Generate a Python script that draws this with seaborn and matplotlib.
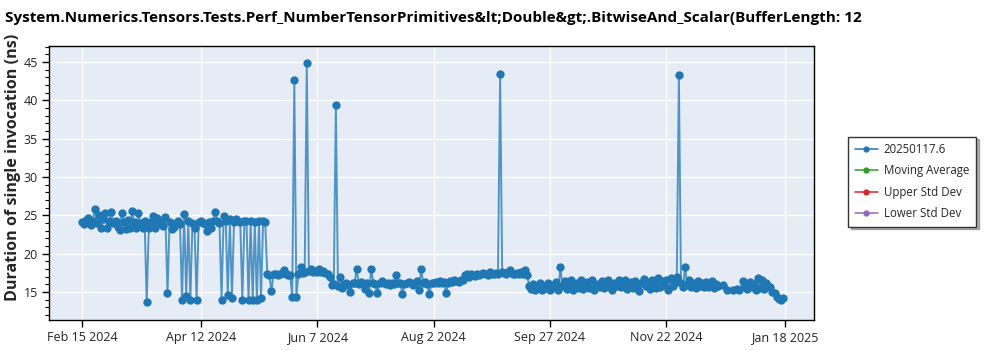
import numpy as np
import pandas as pd
import matplotlib
matplotlib.use("Agg")
import matplotlib.pyplot as plt
import matplotlib.dates as mdates
from matplotlib.lines import Line2D
from matplotlib.ticker import MultipleLocator
import seaborn as sns

# ---- data -------------------------------------------------------------
title = ("System.Numerics.Tensors.Tests.Perf_NumberTensorPrimitives&lt;Double&gt;"
         ".BitwiseAnd_Scalar(BufferLength: 12")
y_label = "Duration of single invocation (ns)"
series_name = "20250117.6"
legend_labels = [series_name, "Moving Average", "Upper Std Dev", "Lower Std Dev"]

first_run = "2024-02-15"
# one value per day starting at first_run; None = no run that day
run_values = [
    24.1, 23.8, 24.4, 24.6, 23.7, 24.3, 25.8, 24.0, 25.05, 23.4,
    24.5, 25.35, 23.3, 24.2, 25.45, 24.0, 24.3, 23.5, 23.1, 25.25,
    24.1, 23.2, 24.4, 23.3, 25.5, 24.1, 23.4, 25.25, 24.0, 23.3,
    24.2, 13.7, 23.3, 24.1, 24.95, 23.3, 24.65, 24.0, 24.2, 23.6,
    24.8, 14.8, 24.1, 23.2, 23.5, 24.0, 24.2, 23.9, 13.9, 25.1,
    14.5, 24.2, 13.9, 24.0, 23.4, 13.9, 24.1, 24.2, 24.0, 23.9,
    22.9, 24.1, 23.3, 24.2, 25.45, 24.2, 24.0, 13.9, 24.95, 24.2,
    14.6, 24.5, 14.2, 24.1, 24.5, 24.2, 24.1, 14.0, 24.2, 24.2,
    13.9, 24.2, 13.9, 24.1, 13.9, 24.2, 14.2, 24.2, 24.1, 17.3,
    17.2, 15.1, 17.3, 17.4, 17.2, 17.3, 17.45, 17.9, 17.3, 17.2,
    17.2, 14.4, 42.6, 14.4, 17.3, 18.2, 17.5, 17.6, 44.8, 17.7,
    18.0, 17.6, 17.7, 17.6, 18.0, 17.6, 17.7, 17.5, 17.3, 17.0,
    15.9, 16.0, 39.4, 15.8, 17.0, 15.5, 16.0, 16.2, 15.9, 15.0,
    16.1, 16.2, 18.0, 16.0, 16.3, 16.1, 15.4, 16.2, 14.9, 18.0,
    16.2, 16.0, 14.9, 16.1, 16.4, 16.2, 16.0, 16.1, 15.9, 16.2,
    16.0, 17.25, 16.1, 16.2, 14.7, 16.0, 16.1, 16.3, 16.2, 15.9,
    16.2, 16.4, 15.2, 18.0, 16.2, 16.3, 16.0, 14.7, 16.2, 16.1,
    16.3, 16.2, 16.4, 16.1, 16.3, 14.9, 16.2, 16.4, 16.3, 16.5,
    16.4, 16.3, 16.6, 16.5, 17.2, 17.3, 17.0, 17.4, 17.2, 17.1,
    17.3, 17.2, 17.4, 17.5, 17.3, 17.2, 17.6, 17.4, 17.3, 17.5,
    17.4, 43.4, 17.6, 17.5, 17.3, 17.6, 17.8, 17.4, 17.3, 17.5,
    17.4, 17.6, 17.3, 17.8, 17.2, 15.8, 15.4, 16.0, 15.3, 15.7,
    16.1, 15.2, 15.8, 15.5, 16.2, 15.3, 15.9, 15.6, 16.3, 15.2,
    18.2, 15.8, 16.4, 15.4, 15.9, 16.6, 15.3, 15.8, 16.2, 15.5,
    16.5, 15.4, 15.9, 16.3, 15.5, 16.6, 15.2, 15.8, 16.0, 15.6,
    16.4, 15.5, 15.9, 16.5, 15.7, 15.3, 16.2, 15.8, 16.5, 15.6,
    16.1, 16.6, 15.4, 15.8, 16.3, 15.5, 16.4, 15.6, 15.1, 16.2,
    16.7, 15.8, 16.3, 15.4, 16.6, 16.0, 15.5, 16.8, 15.7, 16.4,
    15.9, 16.6, 15.3, 16.8, 15.8, 16.3, 16.9, 43.3, 16.2, 15.7,
    18.3, 15.9, 16.5, 15.6, 16.2, 15.5, 16.4, 15.8, 16.1, 15.7,
    16.3, 15.6, 15.9, 16.4, 15.5, 16.0, 15.8, None, 15.9, None,
    15.3, None, None, 15.3, None, 15.4, 15.3, None, 16.4, 15.7,
    15.4, 16.3, 15.6, 16.0, 15.2, 16.8, 15.5, 16.6, 15.4, 16.2,
    15.8, 15.6, 15.0, 14.8, 14.3, 14.1, 14.0, 14.2,
]

tick_dates = ["2024-02-15", "2024-04-12", "2024-06-07", "2024-08-02",
              "2024-09-27", "2024-11-22", "2025-01-18"]
tick_labels = ["Feb 15 2024", "Apr 12 2024", "Jun 7 2024", "Aug 2 2024",
               "Sep 27 2024", "Nov 22 2024", "Jan 18 2025"]

# ---- frame ------------------------------------------------------------
df = pd.DataFrame({
    "date": pd.date_range(first_run, periods=len(run_values), freq="D"),
    "value": pd.array(run_values, dtype="Float64"),
}).dropna()
df["value"] = df["value"].astype(float)

# ---- style ------------------------------------------------------------
sns.set_theme(style="darkgrid", rc={
    "axes.facecolor": "#E5ECF6",
    "grid.color": "white",
    "grid.linewidth": 1.0,
    "axes.edgecolor": "black",
    "axes.linewidth": 1.0,
})
plt.rcParams["font.family"] = ["Open Sans", "DejaVu Sans"]

fig = plt.figure(figsize=(10, 3.5), dpi=100)
ax = fig.add_axes([0.049, 0.086, 0.765, 0.783])

blue = "#1f77b4"
sns.lineplot(data=df, x="date", y="value", ax=ax, color=blue,
             linewidth=1.4, alpha=0.75, estimator=None, legend=False)
sns.scatterplot(data=df, x="date", y="value", ax=ax, color=blue,
                s=36, linewidth=0, legend=False, zorder=3)

ax.set_xlim(pd.Timestamp("2024-01-30"), pd.Timestamp("2025-02-01"))
ax.set_ylim(11.35, 47.1)

ax.set_xticks([mdates.date2num(pd.Timestamp(d)) for d in tick_dates])
ax.set_xticklabels(tick_labels)
ax.yaxis.set_major_locator(MultipleLocator(5))
ax.yaxis.set_minor_locator(MultipleLocator(1))
ax.tick_params(axis="both", which="major", direction="out", length=5,
               width=1, color="black", labelsize=9, pad=3, labelcolor="#222222")
ax.tick_params(axis="y", which="minor", direction="out", length=3,
               width=0.8, color="black", left=True)
ax.tick_params(axis="x", bottom=True)
ax.tick_params(axis="y", left=True)
ax.grid(True, which="major")
ax.grid(False, which="minor")

ax.set_xlabel("")
ax.set_ylabel(y_label, fontsize=11.6, fontweight="bold")
ax.yaxis.set_label_coords(-0.036, 0.557)
for s in ax.spines.values():
    s.set_visible(True)
    s.set_color("black")

fig.text(0.005, 0.948, title, fontsize=11.0, fontweight="bold",
         ha="left", va="center", color="black")

handle_colors = [blue, "#2ca02c", "#d62728", "#9467bd"]
handles = [Line2D([0], [0], color=c, marker="o", markersize=3.5, linewidth=1.1)
           for c in handle_colors]
leg = fig.legend(handles, legend_labels, loc="upper left",
                 bbox_to_anchor=(0.848, 0.61), frameon=True, fancybox=False,
                 shadow={"color": "0.55", "alpha": 0.7}, fontsize=8.3,
                 handlelength=2.0, borderpad=0.6, labelspacing=0.7,
                 handletextpad=0.5, borderaxespad=0.0)
leg.get_frame().set_edgecolor("#333333")
leg.get_frame().set_linewidth(1.0)
leg.get_frame().set_facecolor("white")

fig.savefig("out.png", dpi=100)
